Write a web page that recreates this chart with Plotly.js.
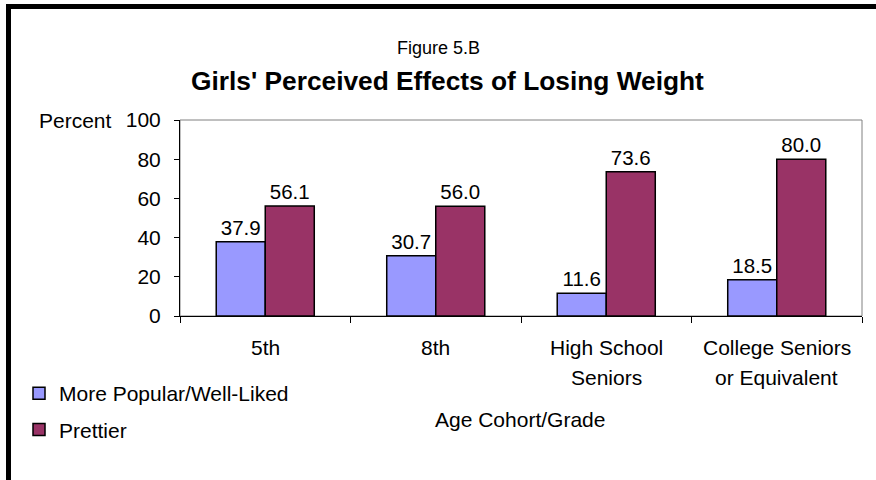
<!DOCTYPE html>
<html>
<head>
<meta charset="utf-8">
<script src="https://cdn.plot.ly/plotly-3.0.1.min.js"></script>
<style>
  html, body { margin: 0; padding: 0; background: #fff; }
  #chart { width: 876px; height: 480px; }
</style>
</head>
<body>
<div id="chart"></div>
<script>
// ---- Data ----
const categories = ["5th", "8th", "High School Seniors", "College Seniors or Equivalent"];
const catLine1 = ["5th", "8th", "High School", "College Seniors"];
const catLine2 = ["", "", "Seniors", "or Equivalent"];
const popularName = "More Popular/Well-Liked";
const prettierName = "Prettier";
const popularValues = [37.9, 30.7, 11.6, 18.5];
const prettierValues = [56.1, 56.0, 73.6, 80.0];
const yTickValues = [0, 20, 40, 60, 80, 100];
const figureLabel = "Figure 5.B";
const chartTitle = "Girls' Perceived Effects of Losing Weight";
const yTitle = "Percent";
const xTitle = "Age Cohort/Grade";

// ---- Layout geometry ----
const W = 876, H = 480;
const M = { l: 180, r: 14, t: 120, b: 164 };
const PW = W - M.l - M.r, PH = H - M.t - M.b;
const px = x => (x - M.l) / PW;
const py = y => (H - M.b - y) / PH;

const FONT = "Liberation Sans, Arial, sans-serif";
const FS = 21;

const traces = [
  {
    type: "bar", name: popularName, x: categories, y: popularValues,
    marker: { color: "#9999FF", line: { color: "#000", width: 1.5 } },
    text: popularValues.map(v => v.toFixed(1)), textposition: "outside",
    textfont: { size: 20.5, color: "#000", family: FONT },
    cliponaxis: false, legendgroup: "a", hoverinfo: "skip"
  },
  {
    type: "bar", name: prettierName, x: categories, y: prettierValues,
    marker: { color: "#993366", line: { color: "#000", width: 1.5 } },
    text: prettierValues.map(v => v.toFixed(1)), textposition: "outside",
    textfont: { size: 20.5, color: "#000", family: FONT },
    cliponaxis: false, legendgroup: "b", hoverinfo: "skip"
  }
];

const annotations = [
  { text: figureLabel, x: px(438), y: py(48), font: { size: 18 } },
  { text: "<b>" + chartTitle + "</b>", x: px(447), y: py(81), font: { size: 26.3 } },
  { text: yTitle, x: px(75), y: py(121), font: { size: FS } },
  { text: xTitle, x: px(520), y: py(419), font: { size: FS } }
].map(a => Object.assign({ xref: "paper", yref: "paper", showarrow: false,
  xanchor: "center", yanchor: "middle" }, a));

categories.forEach((c, i) => {
  annotations.push({ text: catLine1[i], x: c, xref: "x", y: py(347), yref: "paper",
    showarrow: false, xanchor: "center", yanchor: "middle", font: { size: FS } });
  if (catLine2[i]) {
    annotations.push({ text: catLine2[i], x: c, xref: "x", y: py(377), yref: "paper",
      showarrow: false, xanchor: "center", yanchor: "middle", font: { size: FS } });
  }
});

const shapes = [
  // gray plot frame
  { type: "rect", xref: "paper", yref: "paper", x0: 0, x1: 1, y0: 0, y1: 1,
    line: { color: "#808080", width: 1 }, layer: "below" },
  // thick black outer frame (left and top)
  { type: "line", xref: "paper", yref: "paper", x0: px(8.5), x1: px(8.5), y0: py(4), y1: py(490),
    line: { color: "#000", width: 5 } },
  { type: "line", xref: "paper", yref: "paper", x0: px(6), x1: px(890), y0: py(6.5), y1: py(6.5),
    line: { color: "#000", width: 5 } }
];

const layout = {
  width: W, height: H, margin: M,
  paper_bgcolor: "#fff", plot_bgcolor: "#fff",
  font: { family: FONT, color: "#000", size: FS },
  barmode: "group", bargap: 0.425, bargroupgap: 0,
  showlegend: true,
  legend: {
    x: px(19), y: py(373), xanchor: "left", yanchor: "top",
    traceorder: "grouped", tracegroupgap: 6,
    font: { size: FS, family: FONT }, bgcolor: "rgba(0,0,0,0)"
  },
  xaxis: {
    type: "category", showline: true, linecolor: "#000", linewidth: 1,
    ticks: "outside", tickson: "boundaries", ticklen: 6, tickcolor: "#000",
    showticklabels: false, showgrid: false, zeroline: false, fixedrange: true
  },
  yaxis: {
    range: [0, 100], tickvals: yTickValues, showline: true, linecolor: "#000", linewidth: 1,
    ticks: "outside", ticklen: 5, tickcolor: "#000", ticklabelstandoff: 9,
    tickfont: { size: FS }, showgrid: false, zeroline: false, fixedrange: true
  },
  annotations: annotations,
  shapes: shapes
};

Plotly.newPlot("chart", traces, layout, { displayModeBar: false, staticPlot: true });
</script>
</body>
</html>
